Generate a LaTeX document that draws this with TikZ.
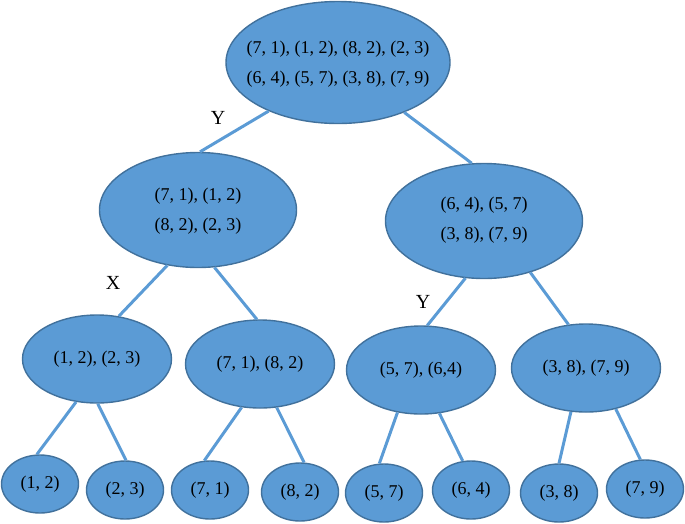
\documentclass[tikz,border=0pt]{standalone}
\usepackage{fontspec}
\setmainfont{Liberation Serif}
\usetikzlibrary{shapes.geometric}
\definecolor{nodefill}{HTML}{5B9BD5}
\definecolor{nodeedge}{HTML}{41719C}
\begin{document}
\begin{tikzpicture}[x=1pt,y=-1pt,
  blob/.style={ellipse, draw=nodeedge, fill=nodefill, line width=1.4pt, inner sep=0pt},
  big/.style={blob, minimum width=224pt, minimum height=122pt},
  mid/.style={blob, minimum width=197pt, minimum height=115pt},
  low/.style={blob, minimum width=149pt, minimum height=88pt, font=\fontsize{18}{30}\selectfont},
  leaf/.style={blob, minimum width=77pt, minimum height=58pt, font=\fontsize{18}{30}\selectfont},
  txt/.style={align=center, inner sep=0pt, font=\fontsize{18}{30}\selectfont},
  branch/.style={draw=nodefill, line width=3pt},
  cut/.style={inner sep=0pt, font=\fontsize{20}{24}\selectfont}]
\useasboundingbox (0,0) rectangle (685,523);
% nodes
\node[big] (root) at (338,62.5) {};
\node[txt] (roott) at (338,64) {(7, 1), (1, 2), (8, 2), (2, 3)\\(6, 4), (5, 7), (3, 8), (7, 9)};
\node[mid] (l) at (198,210) {};
\node[txt] (lt) at (198,211.5) {(7, 1), (1, 2)\\(8, 2), (2, 3)};
\node[mid] (r) at (484,221) {};
\node[txt] (rt) at (484,220) {(6, 4), (5, 7)\\(3, 8), (7, 9)};
\node[low] (ll) at (97,359) {(1, 2), (2, 3)};
\node[low] (lr) at (260,364) {(7, 1), (8, 2)};
\node[low] (rl) at (421,370) {(5, 7), (6,4)};
\node[low] (rr) at (586,368) {(3, 8), (7, 9)};
\node[leaf] (a) at (40,484) {(1, 2)};
\node[leaf] (b) at (125,490) {(2, 3)};
\node[leaf] (c) at (210,490) {(7, 1)};
\node[leaf] (d) at (300,492) {(8, 2)};
\node[leaf] (e) at (384,493) {(5, 7)};
\node[leaf] (f) at (471,490) {(6, 4)};
\node[leaf] (g) at (559,493) {(3, 8)};
\node[leaf] (h) at (645,489) {(7, 9)};
% connectors
\draw[branch] (root.215.5) -- (l.88);
\draw[branch] (root.323.3) -- (r.102.6);
\draw[branch] (l.241.5) -- (ll.63);
\draw[branch] (l.286.6) -- (lr.94);
\draw[branch] (r.252.2) -- (rl.82);
\draw[branch] (r.312) -- (rr.112);
\draw[branch] (ll.244) -- (a.96);
\draw[branch] (ll.271) -- (b.88);
\draw[branch] (lr.247.3) -- (c.101.7);
\draw[branch] (lr.291.6) -- (d.82);
\draw[branch] (rl.241.3) -- (e.99.8);
\draw[branch] (rl.293.2) -- (f.106);
\draw[branch] (rr.251.6) -- (g.90);
\draw[branch] (rr.306.4) -- (h.99.8);
% edge labels
\node[cut] (ly1) at (218,118) {Y};
\node[cut] (lx) at (113,283) {X};
\node[cut] (ly2) at (423,302) {Y};
\end{tikzpicture}
\end{document}
